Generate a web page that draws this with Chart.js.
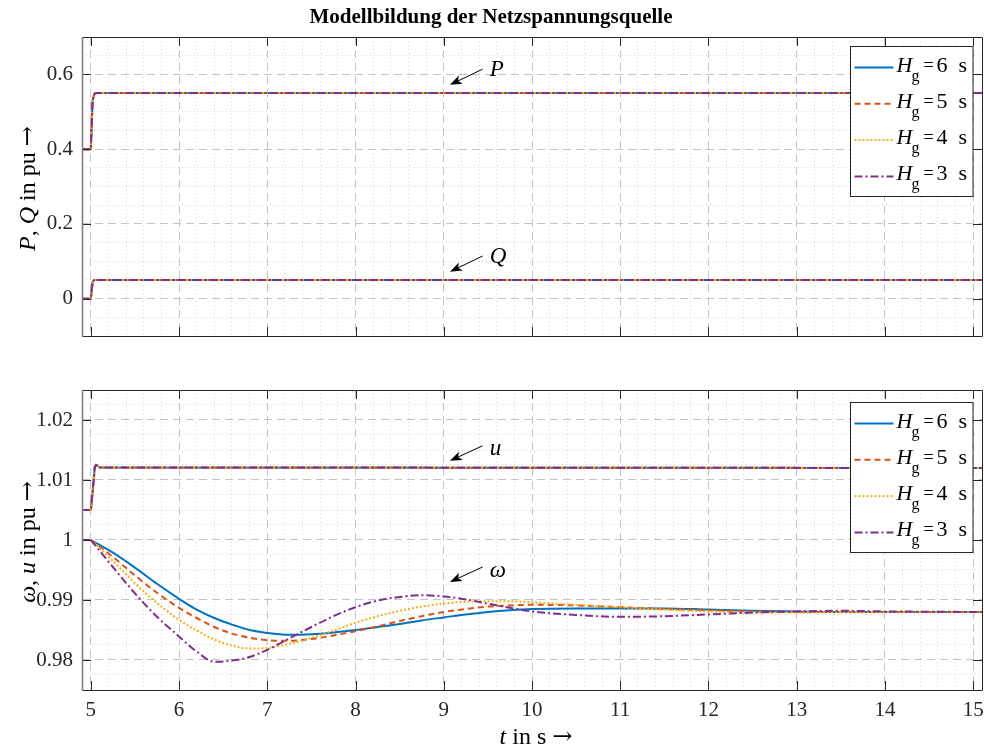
<!DOCTYPE html>
<html lang="de">
<head>
<meta charset="UTF-8">
<title>Modellbildung der Netzspannungsquelle</title>
<script src="https://cdn.jsdelivr.net/npm/chart.js"></script>
<style>
  body { margin: 0; background: #fff; width: 984px; height: 751px; overflow: hidden; position: relative; }
  .panel { position: absolute; left: 0; width: 984px; }
  #top { top: 0; height: 350px; }
  #bottom { top: 350px; height: 401px; }
</style>
</head>
<body>
<div class="panel" id="top"><canvas id="chartTop" width="984" height="350"></canvas></div>
<div class="panel" id="bottom"><canvas id="chartBottom" width="984" height="401"></canvas></div>
<script>
// ---------- data ----------
const hValues = [6, 5, 4, 3];
const hColors = ['#0072BD', '#D95319', '#EDB120', '#7E2F8E'];
const hDashes = [[], [6, 4], [2, 2], [8, 3, 2, 3]];

const xTicks = [5, 6, 7, 8, 9, 10, 11, 12, 13, 14, 15];
const yTicksTop = [0, 0.2, 0.4, 0.6];
const yTicksBottom = [0.98, 0.99, 1, 1.01, 1.02];

// P and Q are the same for every H_g
const tStep = [4.9, 5.0, 5.02, 5.04, 5.07, 15.1];
const pValues = [0.4, 0.4, 0.53, 0.548, 0.55, 0.55];
const qValues = [0, 0, 0.045, 0.05, 0.05, 0.05];

// u is the same for every H_g
const tU = [4.9, 5.0, 5.02, 5.045, 5.06, 5.1, 15.1];
const uValues = [1.005, 1.005, 1.008, 1.0122, 1.0125, 1.0121, 1.012];

// omega before the step (all H_g)
const tPre = [4.9, 5.0];
const omegaPre = [1.0, 1.0];

// omega after the step for H_g = 6, 5, 4, 3 s
const tOmega = [5.0, 5.25, 5.5, 5.75, 6.0, 6.2, 6.4, 6.6, 6.8, 7.0, 7.25, 7.5, 7.75, 8.0, 8.25,
  8.5, 8.75, 9.0, 9.25, 9.5, 9.75, 10.0, 10.5, 11.0, 11.5, 12.0, 12.5, 13.0, 13.5, 14.0, 15.1];
const omegaH6 = [1.0, 0.9979, 0.9954, 0.9927, 0.9902, 0.9884, 0.9870, 0.9859, 0.9850, 0.9845,
  0.9842, 0.9843, 0.9846, 0.9850, 0.9855, 0.9860, 0.9866, 0.9871, 0.9876, 0.9880, 0.9883, 0.9885,
  0.9886, 0.9886, 0.9886, 0.9884, 0.9882, 0.9881, 0.9880, 0.9880, 0.9880];
const omegaH5 = [1.0, 0.9972, 0.9941, 0.9912, 0.9887, 0.9870, 0.9855, 0.9844, 0.9837, 0.9833,
  0.9832, 0.9835, 0.9841, 0.9848, 0.9856, 0.9865, 0.9873, 0.9880, 0.9885, 0.9889, 0.9891, 0.9892,
  0.9891, 0.9888, 0.9885, 0.9883, 0.9881, 0.9880, 0.9880, 0.9880, 0.9880];
const omegaH4 = [1.0, 0.9965, 0.9928, 0.9895, 0.9867, 0.9849, 0.9834, 0.9824, 0.9819, 0.9820,
  0.9827, 0.9837, 0.9849, 0.9862, 0.9873, 0.9882, 0.9889, 0.9894, 0.9897, 0.9898, 0.9898, 0.9896,
  0.9892, 0.9888, 0.9884, 0.9881, 0.9879, 0.9879, 0.9880, 0.9880, 0.9880];
const omegaH3 = [1.0, 0.9955, 0.9911, 0.9872, 0.9839, 0.9814, 0.9797, 0.9799, 0.9805, 0.9817,
  0.9836, 0.9855, 0.9873, 0.9888, 0.9899, 0.9905, 0.9908, 0.9906, 0.9901, 0.9894, 0.9887, 0.9881,
  0.9875, 0.9872, 0.9873, 0.9876, 0.9879, 0.9881, 0.9882, 0.9881, 0.9880];
const omegaSeries = [omegaH6, omegaH5, omegaH4, omegaH3];

// arrows: tail -> head, text anchored at "at" (data coordinates)
const notesTop = [
  { text: 'P', tail: [9.44, 0.614], head: [9.07, 0.572], at: [9.52, 0.612] },
  { text: 'Q', tail: [9.44, 0.114], head: [9.07, 0.072], at: [9.52, 0.112] }
];
const notesBottom = [
  { text: 'u', tail: [9.44, 1.0157], head: [9.07, 1.0132], at: [9.52, 1.0152] },
  { text: '\u03c9', tail: [9.44, 0.9955], head: [9.07, 0.9930], at: [9.52, 0.9948] }
];

// ---------- helpers ----------
const SERIF = '"Liberation Serif", "DejaVu Serif", serif';
const INK = '#262626';

function isMajor(v, majors) { return majors.some(m => Math.abs(m - v) < 1e-7); }
function stepValues(from, to, step) {
  const out = [];
  const n = Math.round((to - from) / step);
  for (let i = 0; i <= n; i++) out.push(+(from + i * step).toFixed(6));
  return out;
}
function pts(xs, ys) { return xs.map((x, i) => ({ x: x, y: ys[i] })); }

function drawRuns(ctx, runs, cx, cy) {
  let total = 0;
  runs.forEach(r => { ctx.font = r.font; r.w = ctx.measureText(r.text).width; total += r.w; });
  let x = cx - total / 2;
  ctx.textAlign = 'left';
  ctx.textBaseline = 'middle';
  runs.forEach(r => { ctx.font = r.font; ctx.fillText(r.text, x, cy); x += r.w; });
}
const it = s => ({ text: s, font: 'italic 24px ' + SERIF });
const rm = s => ({ text: s, font: '24px ' + SERIF });
const arrow = () => ({ text: '\u2192', font: '24px "DejaVu Serif", serif' });

// frame, inward ticks, arrows, legend and axis titles
function decorPlugin(cfg) {
  return {
    id: 'decor',
    afterDatasetsDraw(chart) {
      const { ctx, chartArea: a, scales: { x, y } } = chart;
      ctx.save();
      // inward tick marks
      ctx.strokeStyle = INK;
      ctx.lineWidth = 1;
      ctx.beginPath();
      xTicks.forEach(v => {
        const px = Math.round(x.getPixelForValue(v)) + 0.5;
        ctx.moveTo(px, a.bottom); ctx.lineTo(px, a.bottom - 9);
        ctx.moveTo(px, a.top); ctx.lineTo(px, a.top + 9);
      });
      cfg.yMajors.forEach(v => {
        const py = Math.round(y.getPixelForValue(v)) + 0.5;
        ctx.moveTo(a.left, py); ctx.lineTo(a.left + 9, py);
        ctx.moveTo(a.right, py); ctx.lineTo(a.right - 9, py);
      });
      ctx.stroke();
      // box
      ctx.beginPath();
      ctx.moveTo(a.left, a.bottom + 0.5); ctx.lineTo(a.right + 0.5, a.bottom + 0.5);
      ctx.lineTo(a.right + 0.5, a.top + 0.5); ctx.lineTo(a.left, a.top + 0.5);
      ctx.stroke();
      ctx.strokeStyle = '#808080';
      ctx.lineWidth = 1.6;
      ctx.beginPath();
      ctx.moveTo(a.left + 0.5, a.top); ctx.lineTo(a.left + 0.5, a.bottom + 1);
      ctx.stroke();

      // arrows with labels
      ctx.fillStyle = '#000';
      ctx.strokeStyle = '#000';
      cfg.notes.forEach(n => {
        const tx = x.getPixelForValue(n.tail[0]), ty = y.getPixelForValue(n.tail[1]);
        const hx = x.getPixelForValue(n.head[0]), hy = y.getPixelForValue(n.head[1]);
        const ang = Math.atan2(hy - ty, hx - tx);
        const L = 12, W = 4.5;
        const bx = hx - L * Math.cos(ang), by = hy - L * Math.sin(ang);
        ctx.lineWidth = 1;
        ctx.beginPath();
        ctx.moveTo(tx, ty); ctx.lineTo(bx + 3 * Math.cos(ang), by + 3 * Math.sin(ang));
        ctx.stroke();
        ctx.beginPath();
        ctx.moveTo(hx, hy);
        ctx.lineTo(bx - W * Math.sin(ang), by + W * Math.cos(ang));
        ctx.lineTo(bx + 3 * Math.cos(ang), by + 3 * Math.sin(ang));
        ctx.lineTo(bx + W * Math.sin(ang), by - W * Math.cos(ang));
        ctx.closePath();
        ctx.fill();
        ctx.font = 'italic 23px ' + SERIF;
        ctx.textAlign = 'left';
        ctx.textBaseline = 'middle';
        ctx.fillText(n.text, x.getPixelForValue(n.at[0]), y.getPixelForValue(n.at[1]));
      });

      // legend
      const bw = 122.5, bh = 150;
      const bl = Math.round(a.right - 9.5 - bw) + 0.5, bt = Math.round(a.top + cfg.legendTop) + 0.5;
      ctx.fillStyle = '#fff';
      ctx.fillRect(bl, bt, bw, bh);
      ctx.strokeStyle = INK;
      ctx.lineWidth = 1;
      ctx.setLineDash([]);
      ctx.strokeRect(bl, bt, bw, bh);
      hValues.forEach((h, i) => {
        const ry = bt + 21 + i * 36.3;
        ctx.strokeStyle = hColors[i];
        ctx.lineWidth = 2;
        ctx.setLineDash(hDashes[i]);
        ctx.beginPath();
        ctx.moveTo(bl + 4, ry); ctx.lineTo(bl + 43, ry);
        ctx.stroke();
        ctx.setLineDash([]);
        ctx.fillStyle = '#000';
        ctx.textAlign = 'left';
        ctx.textBaseline = 'alphabetic';
        ctx.font = 'italic 22px ' + SERIF;
        ctx.fillText('H', bl + 46, ry + 4);
        ctx.font = '16px ' + SERIF;
        ctx.fillText('g', bl + 61, ry + 13);
        ctx.font = '18px ' + SERIF;
        ctx.fillText('=', bl + 73, ry + 3);
        ctx.font = '22px ' + SERIF;
        ctx.fillText(String(h), bl + 86, ry + 4);
        ctx.fillText('s', bl + 108, ry + 4);
      });

      // axis titles
      ctx.fillStyle = '#000';
      ctx.save();
      ctx.translate(29, (a.top + a.bottom) / 2 + 2);
      ctx.rotate(-Math.PI / 2);
      drawRuns(ctx, cfg.yTitle, 0, 0);
      ctx.restore();
      if (cfg.xTitle) drawRuns(ctx, cfg.xTitle, (a.left + a.right) / 2 + 4, a.bottom + 48);
      ctx.restore();
    }
  };
}

function scaleX(showLabels, height) {
  return {
    type: 'linear', min: 4.9, max: 15.1,
    afterBuildTicks: s => { s.ticks = stepValues(5, 15, 0.2).map(v => ({ value: v })); },
    afterFit: s => { s.height = height; s.paddingLeft = 0; s.paddingRight = 0; },
    ticks: {
      display: showLabels, autoSkip: false, maxRotation: 0, padding: 8, color: INK,
      font: { family: SERIF, size: 21 },
      callback: v => isMajor(v, xTicks) ? String(Math.round(v)) : ''
    },
    grid: {
      drawTicks: false, lineWidth: 1,
      color: c => c.tick && isMajor(c.tick.value, xTicks) ? '#c4c4c4' : '#d6d6d6'
    },
    border: { display: false, dash: c => c.tick && isMajor(c.tick.value, xTicks) ? [8, 5] : [1, 3] }
  };
}

function scaleY(min, max, step, majors) {
  return {
    type: 'linear', min: min, max: max,
    afterBuildTicks: s => { s.ticks = stepValues(min, max, step).map(v => ({ value: v })); },
    afterFit: s => { s.width = 82; s.paddingTop = 0; s.paddingBottom = 0; },
    ticks: {
      autoSkip: false, padding: 9, color: INK,
      font: { family: SERIF, size: 21 },
      callback: v => isMajor(v, majors) ? String(+v.toFixed(4)) : ''
    },
    grid: {
      drawTicks: false, lineWidth: 1,
      color: c => c.tick && isMajor(c.tick.value, majors) ? '#c4c4c4' : '#d6d6d6'
    },
    border: { display: false, dash: c => c.tick && isMajor(c.tick.value, majors) ? [8, 5] : [1, 3] }
  };
}

function line(data, i, smooth) {
  return {
    label: 'H_g = ' + hValues[i] + ' s', data: data,
    borderColor: hColors[i], borderDash: hDashes[i], borderWidth: 2,
    pointRadius: 0, fill: false, order: 3 - i,
    tension: smooth ? 0.4 : 0,
    cubicInterpolationMode: smooth ? 'monotone' : 'default'
  };
}

const topSets = [];
const bottomSets = [];
hValues.forEach((h, i) => {
  topSets.push(line(pts(tStep, pValues), i, false));
  topSets.push(line(pts(tStep, qValues), i, false));
  bottomSets.push(line(pts(tU, uValues), i, false));
  bottomSets.push(line(pts(tPre, omegaPre), i, false));
  bottomSets.push(line(pts(tOmega, omegaSeries[i]), i, true));
});

new Chart(document.getElementById('chartTop'), {
  type: 'line',
  data: { datasets: topSets },
  options: {
    responsive: false, animation: false, events: [],
    layout: { padding: { left: 0, right: 2, top: 0, bottom: 0 } },
    plugins: {
      legend: { display: false }, tooltip: { enabled: false },
      title: {
        display: true, text: 'Modellbildung der Netzspannungsquelle', color: '#000',
        font: { family: SERIF, size: 21, weight: 'bold' }, padding: { top: 5, bottom: 6.8 }
      }
    },
    scales: { x: scaleX(false, 14), y: scaleY(-0.1, 0.7, 0.05, yTicksTop) }
  },
  plugins: [decorPlugin({
    yMajors: yTicksTop, notes: notesTop, legendTop: 9,
    yTitle: [it('P'), rm(', '), it('Q'), rm(' in pu '), arrow()]
  })]
});

new Chart(document.getElementById('chartBottom'), {
  type: 'line',
  data: { datasets: bottomSets },
  options: {
    responsive: false, animation: false, events: [],
    layout: { padding: { left: 0, right: 2, top: 40, bottom: 0 } },
    plugins: { legend: { display: false }, tooltip: { enabled: false } },
    scales: { x: scaleX(true, 61), y: scaleY(0.975, 1.025, 0.0025, yTicksBottom) }
  },
  plugins: [decorPlugin({
    yMajors: yTicksBottom, notes: notesBottom, legendTop: 12,
    yTitle: [it('\u03c9'), rm(', '), it('u'), rm(' in pu '), arrow()],
    xTitle: [it('t'), rm(' in s '), arrow()]
  })]
});
</script>
</body>
</html>
